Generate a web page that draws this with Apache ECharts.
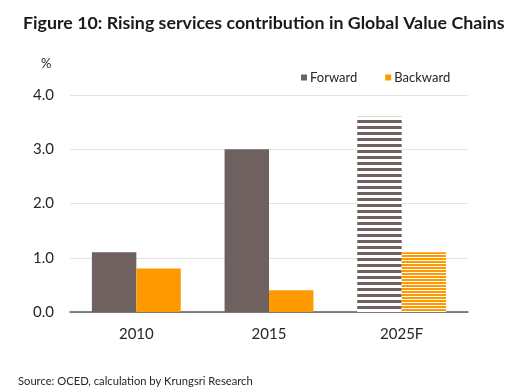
<!DOCTYPE html>
<html>
<head>
<meta charset="utf-8">
<script src="https://cdn.jsdelivr.net/npm/echarts@6/dist/echarts.min.js"></script>
<style>
html,body{margin:0;padding:0;background:#fff;}
#chart{width:510px;height:392px;}
</style>
</head>
<body>
<div id="chart"></div>
<script>
var categories = ['2010', '2015', '2025F'];
var forwardValues = [1.1, 3.0, 3.6];
var backwardValues = [0.8, 0.4, 1.1];
var forecastFlags = [false, false, true];
var yTicks = { min: 0, max: 4, interval: 1 };

var BROWN = '#6F6160';
var ORANGE = '#FF9900';
var FONT = 'Lato';

function stripes(color, on, off) {
  var c = document.createElement('canvas');
  c.width = 8; c.height = on + off;
  var ctx = c.getContext('2d');
  ctx.fillStyle = '#ffffff';
  ctx.fillRect(0, 0, c.width, c.height);
  ctx.fillStyle = color;
  ctx.fillRect(0, 0, c.width, on);
  return { image: c, repeat: 'repeat' };
}

function build(values, color, pattern) {
  return values.map(function (v, i) {
    return forecastFlags[i] ? { value: v, itemStyle: { color: pattern } } : v;
  });
}

var chart = echarts.init(document.getElementById('chart'), null, { renderer: 'canvas' });
chart.setOption({
  animation: false,
  backgroundColor: '#fff',
  textStyle: { fontFamily: FONT },
  title: [
    { text: 'Figure 10: Rising services contribution in Global Value Chains', left: 18, top: 9,
      textStyle: { fontFamily: FONT, fontWeight: 'bold', fontSize: 17.8, color: '#1a1a1a' } },
    { text: 'Source: OCED, calculation by Krungsri Research', left: 13, top: 371,
      textStyle: { fontFamily: FONT, fontWeight: 'normal', fontSize: 11.2, color: '#262626' } }
  ],
  legend: {
    top: 66, left: 296, itemWidth: 6, itemHeight: 6, itemGap: 28, icon: 'rect',
    textStyle: { fontFamily: FONT, fontSize: 13, color: '#262626', padding: [0, 0, 0, -2] },
    data: ['Forward', 'Backward']
  },
  graphic: [
    { type: 'text', left: 41, top: 57, style: { text: '%', fontFamily: FONT, fontSize: 13, fill: '#262626' } }
  ],
  grid: { left: 70, right: 42, top: 95, bottom: 80 },
  xAxis: {
    type: 'category', data: categories,
    axisLine: { lineStyle: { color: '#595959', width: 1.5 } },
    axisTick: { show: false },
    axisLabel: { fontFamily: FONT, fontSize: 15, color: '#262626', margin: 15 }
  },
  yAxis: {
    type: 'value', min: yTicks.min, max: yTicks.max, interval: yTicks.interval,
    axisLine: { show: false }, axisTick: { show: false },
    splitLine: { lineStyle: { color: '#E3E3E3', width: 1 } },
    axisLabel: { fontFamily: FONT, fontSize: 15, color: '#262626', margin: 16,
      formatter: function (v) { return v.toFixed(1); } }
  },
  series: [
    { name: 'Forward', type: 'bar', barGap: '0%', barCategoryGap: '33%',
      itemStyle: { color: BROWN },
      data: build(forwardValues, BROWN, stripes(BROWN, 3, 3)) },
    { name: 'Backward', type: 'bar', barGap: '0%', barCategoryGap: '33%',
      itemStyle: { color: ORANGE },
      data: build(backwardValues, ORANGE, stripes(ORANGE, 2, 1)) }
  ]
});
</script>
</body>
</html>
